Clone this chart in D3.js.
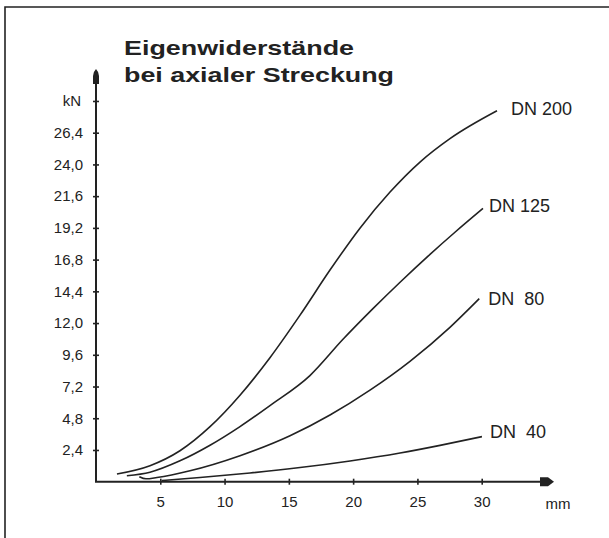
<!DOCTYPE html>
<html lang="de">
  <head>
    <meta charset="UTF-8" />
    <title>Eigenwiderstände bei axialer Streckung</title>
    <style>
      body { margin: 0; background: #fff; }
      svg { display: block; font-family: 'Liberation Sans', Arial, sans-serif; }
    </style>
  </head>
  <body>
    <script src="https://cdn.jsdelivr.net/npm/d3@7/dist/d3.min.js"></script>
    <script>
      const width = 609;
      const height = 538;
      const ink = '#222';

      // axis ticks (mm / kN)
      const xTicks = [5, 10, 15, 20, 25, 30];
      const yTicks = [2.4, 4.8, 7.2, 9.6, 12.0, 14.4, 16.8, 19.2, 21.6, 24.0, 26.4, 28.8];
      const yTickLabels = ['2,4', '4,8', '7,2', '9,6', '12,0', '14,4', '16,8', '19,2', '21,6', '24,0', '26,4', ''];

      // curves: [mm, kN]
      const dn200 = [[1.63, 0.58], [4.2, 1.21], [6.53, 2.34], [8.87, 4.16], [11.2, 6.54], [13.53, 9.38],
        [15.87, 12.6], [18.2, 16.01], [20.53, 19.18], [22.87, 21.91], [25.2, 24.18], [27.53, 25.95],
        [31.19, 28.06]];
      const dn125 = [[2.4, 0.45], [4.2, 0.72], [6.53, 1.58], [8.87, 2.76], [11.2, 4.17], [13.53, 5.76],
        [16.64, 8.03], [19.21, 10.77], [21.54, 13.09], [23.65, 15.09], [25.98, 17.2], [27.92, 18.87],
        [30.1, 20.67]];
      const dn80 = [[3.37, 0.38], [3.89, 0.22], [4.74, 0.32], [7.31, 0.83], [11.2, 1.97], [15.09, 3.48],
        [18.2, 5.05], [21.31, 6.93], [24.42, 9.11], [27.53, 11.68], [29.81, 13.85]];
      const dn40 = [[5.11, 0.09], [8.09, 0.32], [11.98, 0.66], [15.87, 1.07], [19.76, 1.57], [23.65, 2.17],
        [26.76, 2.75], [30.02, 3.41]];

      const seriesNames = ['DN 200', 'DN 125', 'DN  80', 'DN  40'];
      const series = [dn200, dn125, dn80, dn40];
      const labelDx = [14, 6, 9, 8];
      const labelDy = [-2, -3, 0, -5];

      const svg = d3.select('body').append('svg')
        .attr('width', width)
        .attr('height', height);

      // frame (only top and left edge are inside the picture)
      svg.append('path')
        .attr('d', `M5,${height} L5,7 L${width},7`)
        .attr('fill', 'none')
        .attr('stroke', ink)
        .attr('stroke-width', 1.6);

      const x = d3.scaleLinear().domain([0, 30]).range([96, 481.7]);
      const y = d3.scaleLinear().domain([0, 26.4]).range([481.7, 132.7]);

      // axis lines with arrow heads
      const x0 = x(0), y0 = y(0);
      svg.append('line')
        .attr('x1', x0).attr('y1', y0).attr('x2', x0).attr('y2', 80)
        .attr('stroke', ink).attr('stroke-width', 2);
      svg.append('line')
        .attr('x1', x0 - 1).attr('y1', y0).attr('x2', 545).attr('y2', y0)
        .attr('stroke', ink).attr('stroke-width', 2);
      svg.append('path')
        .attr('d', `M${x0 - 3},84 L${x0 - 3},76 Q${x0 - 3},72 ${x0},69 Q${x0 + 3},72 ${x0 + 3},76 L${x0 + 3},84 Z`)
        .attr('fill', ink);
      svg.append('path')
        .attr('d', `M540,${y0 - 4.5} L548,${y0 - 4.5} L554,${y0} L548,${y0 + 4.5} L540,${y0 + 4.5} Z`)
        .attr('fill', ink);

      const yAxis = svg.append('g')
        .attr('transform', `translate(${x0},0)`)
        .call(d3.axisLeft(y).tickValues(yTicks).tickFormat((d, i) => yTickLabels[i])
          .tickSize(3).tickPadding(10).tickSizeOuter(0));
      yAxis.select('.domain').remove();
      yAxis.selectAll('.tick line').attr('x1', 3).attr('stroke', ink).attr('stroke-width', 1.6);
      yAxis.selectAll('.tick text').attr('fill', ink).style('font-size', '15px');

      const xAxis = svg.append('g')
        .attr('transform', `translate(0,${y0})`)
        .call(d3.axisBottom(x).tickValues(xTicks).tickSize(3).tickPadding(12).tickSizeOuter(0));
      xAxis.select('.domain').remove();
      xAxis.selectAll('.tick line').attr('y1', -3).attr('stroke', ink).attr('stroke-width', 1.6);
      xAxis.selectAll('.tick text').attr('fill', ink).style('font-size', '15px');

      // unit labels
      svg.append('text')
        .text('kN')
        .attr('x', 81).attr('y', y(28.8)).attr('dy', '0.35em')
        .attr('text-anchor', 'end')
        .style('font-size', '15px').attr('fill', ink);
      svg.append('text')
        .text('mm')
        .attr('x', 558).attr('y', y0 + 27)
        .attr('text-anchor', 'middle')
        .style('font-size', '15px').attr('fill', ink);

      // title (set wide in the original)
      const title = svg.append('text')
        .style('font-size', '21px').attr('font-weight', 'bold').attr('fill', ink);
      title.append('tspan').attr('x', 124).attr('y', 55)
        .attr('textLength', 230).attr('lengthAdjust', 'spacingAndGlyphs')
        .text('Eigenwiderstände');
      title.append('tspan').attr('x', 124).attr('y', 82)
        .attr('textLength', 270).attr('lengthAdjust', 'spacingAndGlyphs')
        .text('bei axialer Streckung');

      // curves
      const line = d3.line()
        .x((d) => x(d[0]))
        .y((d) => y(d[1]))
        .curve(d3.curveMonotoneX);

      svg.selectAll('.curve')
        .data(series)
        .enter()
        .append('path')
        .attr('class', 'curve')
        .attr('d', line)
        .attr('fill', 'none')
        .attr('stroke', ink)
        .attr('stroke-width', 1.6);

      svg.selectAll('.dn-label')
        .data(series)
        .enter()
        .append('text')
        .attr('class', 'dn-label')
        .attr('x', (d, i) => x(d[d.length - 1][0]) + labelDx[i])
        .attr('y', (d, i) => y(d[d.length - 1][1]) + labelDy[i])
        .attr('dy', '0.35em')
        .style('font-size', '18px')
        .style('white-space', 'pre')
        .attr('fill', ink)
        .text((d, i) => seriesNames[i]);
    </script>
  </body>
</html>
